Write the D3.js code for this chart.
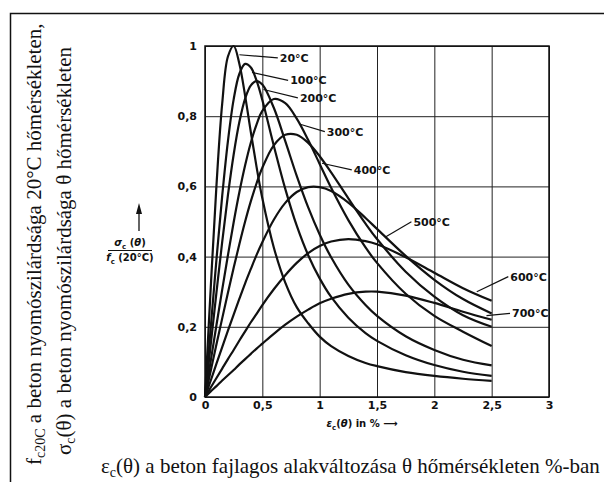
<!DOCTYPE html>
<html>
<head>
<meta charset="utf-8">
<script src="https://cdn.jsdelivr.net/npm/d3@7"></script>
<style>
  body { margin: 0; background: #fff; }
  svg { display: block; }
  .tick text, .lbl { font-family: "DejaVu Sans", sans-serif; font-weight: bold; font-size: 11px; fill: #111; }
  .serif { font-family: "Liberation Serif", "Times New Roman", serif; font-size: 21px; fill: #111; }
</style>
</head>
<body>
<div id="chart"></div>
<script>
// strain eps_c(theta) in %, shared by every curve
const STRAIN = [0, 0.05, 0.1, 0.15, 0.2, 0.25, 0.3, 0.35, 0.4, 0.45, 0.5, 0.6, 0.7, 0.8, 0.9, 1.0, 1.1, 1.25, 1.4, 1.5, 1.75, 2.0, 2.25, 2.5]

const TEMPS = ['20°C', '100°C', '200°C', '300°C', '400°C', '500°C', '600°C', '700°C']

// sigma_c(theta) / f_c(20°C)
const S20 = [0, 0.311, 0.603, 0.836, 0.97, 1.0, 0.949, 0.858, 0.754, 0.655, 0.566, 0.426, 0.326, 0.256, 0.21, 0.172, 0.145, 0.117, 0.097, 0.088, 0.071, 0.06, 0.052, 0.046]
const S100 = [0, 0.198, 0.392, 0.573, 0.729, 0.848, 0.921, 0.949, 0.939, 0.901, 0.846, 0.716, 0.593, 0.488, 0.404, 0.338, 0.285, 0.226, 0.182, 0.16, 0.119, 0.091, 0.072, 0.06]
const S200 = [0, 0.15, 0.298, 0.442, 0.575, 0.691, 0.784, 0.85, 0.888, 0.9, 0.89, 0.824, 0.729, 0.63, 0.54, 0.463, 0.398, 0.32, 0.262, 0.231, 0.173, 0.134, 0.106, 0.09]
const S300 = [0, 0.103, 0.205, 0.306, 0.404, 0.498, 0.584, 0.66, 0.725, 0.777, 0.815, 0.849, 0.837, 0.793, 0.732, 0.664, 0.596, 0.504, 0.426, 0.382, 0.294, 0.231, 0.186, 0.145]
const S400 = [0, 0.075, 0.15, 0.224, 0.297, 0.368, 0.436, 0.5, 0.558, 0.609, 0.653, 0.717, 0.747, 0.747, 0.724, 0.686, 0.64, 0.566, 0.494, 0.45, 0.357, 0.286, 0.233, 0.2]
const S500 = [0, 0.047, 0.095, 0.142, 0.189, 0.235, 0.28, 0.324, 0.365, 0.405, 0.441, 0.505, 0.553, 0.584, 0.598, 0.598, 0.587, 0.554, 0.51, 0.479, 0.402, 0.334, 0.279, 0.238]
const S600 = [0, 0.027, 0.054, 0.081, 0.108, 0.134, 0.161, 0.187, 0.213, 0.237, 0.262, 0.307, 0.347, 0.382, 0.41, 0.43, 0.443, 0.45, 0.444, 0.435, 0.398, 0.354, 0.31, 0.274]
const S700 = [0, 0.016, 0.031, 0.047, 0.062, 0.077, 0.093, 0.108, 0.123, 0.138, 0.152, 0.18, 0.206, 0.229, 0.249, 0.267, 0.28, 0.294, 0.3, 0.3, 0.289, 0.268, 0.243, 0.22]

const SERIES = [S20, S100, S200, S300, S400, S500, S600, S700]

const X_TICKS = [0, 0.5, 1, 1.5, 2, 2.5, 3]
const X_TICK_LABELS = ['0', '0,5', '1', '1,5', '2', '2,5', '3']
const Y_TICKS = [0, 0.2, 0.4, 0.6, 0.8, 1]
const Y_TICK_LABELS = ['0', '0,2', '0,4', '0,6', '0,8', '1']

// leader lines of the temperature labels, in data units: [from eps, from s, to eps, to s]
const LEADERS = [
  [0.30, 0.975, 0.635, 0.966],
  [0.41, 0.925, 0.725, 0.902],
  [0.51, 0.876, 0.81, 0.852],
  [0.83, 0.777, 1.045, 0.756],
  [1.02, 0.666, 1.28, 0.647],
  [1.57, 0.455, 1.80, 0.499],
  [2.37, 0.30, 2.645, 0.343],
  [2.455, 0.232, 2.66, 0.238],
]

const W = 604, H = 482
const plot = { left: 205, right: 549, top: 46, bottom: 397 }

const svg = d3.select('#chart').append('svg')
  .attr('width', W)
  .attr('height', H)

// outer frame of the scanned page (runs off the right and bottom)
svg.append('rect')
  .attr('x', 10.5).attr('y', 13.5)
  .attr('width', 700).attr('height', 600)
  .attr('fill', 'none').attr('stroke', '#111').attr('stroke-width', 1.5)

const x = d3.scaleLinear().domain([0, 3]).range([plot.left, plot.right])
const y = d3.scaleLinear().domain([0, 1]).range([plot.bottom, plot.top])

const xaxis = svg.append('g')
  .attr('transform', `translate(0,${plot.bottom})`)
  .call(d3.axisBottom(x)
    .tickValues(X_TICKS)
    .tickFormat((d, i) => X_TICK_LABELS[i])
    .tickSize(-(plot.bottom - plot.top))
    .tickSizeOuter(0)
    .tickPadding(4))
xaxis.select('.domain').remove()

const yaxis = svg.append('g')
  .attr('transform', `translate(${plot.left},0)`)
  .call(d3.axisLeft(y)
    .tickValues(Y_TICKS)
    .tickFormat((d, i) => Y_TICK_LABELS[i])
    .tickSize(-(plot.right - plot.left))
    .tickSizeOuter(0)
    .tickPadding(8))
yaxis.select('.domain').remove()

svg.selectAll('.tick line').attr('stroke', '#222').attr('stroke-width', 1)
svg.selectAll('.tick text').attr('fill', '#111')

svg.append('rect')
  .attr('x', plot.left).attr('y', plot.top)
  .attr('width', plot.right - plot.left).attr('height', plot.bottom - plot.top)
  .attr('fill', 'none').attr('stroke', '#111').attr('stroke-width', 1.5)

const line = d3.line()
  .x(d => x(d[0]))
  .y(d => y(d[1]))
  .curve(d3.curveCatmullRom.alpha(0.5))

svg.append('g').selectAll('path')
  .data(SERIES)
  .enter()
  .append('path')
  .attr('d', s => line(s.map((v, i) => [STRAIN[i], v])))
  .attr('fill', 'none')
  .attr('stroke', '#111')
  .attr('stroke-width', 2.2)
  .attr('stroke-linejoin', 'round')

// temperature labels with their leader lines
const lbl = svg.append('g')
lbl.selectAll('line')
  .data(LEADERS)
  .enter()
  .append('line')
  .attr('x1', d => x(d[0])).attr('y1', d => y(d[1]))
  .attr('x2', d => x(d[2])).attr('y2', d => y(d[3]))
  .attr('stroke', '#111').attr('stroke-width', 1.2)
lbl.selectAll('text')
  .data(LEADERS)
  .enter()
  .append('text')
  .attr('class', 'lbl')
  .attr('x', d => x(d[2]) + 2)
  .attr('y', d => y(d[3]) + 4)
  .text((d, i) => TEMPS[i])

// x axis title
const xt = svg.append('text')
  .attr('x', 362).attr('y', 427)
  .attr('text-anchor', 'middle')
  .style('font-family', '"DejaVu Sans", sans-serif')
  .style('font-size', '10px').style('font-weight', 'bold').attr('fill', '#111')
xt.append('tspan').style('font-style', 'italic').text('ε')
xt.append('tspan').attr('dy', 3).style('font-size', '7px').text('c')
xt.append('tspan').attr('dy', -3).text('(')
xt.append('tspan').style('font-style', 'italic').text('θ')
xt.append('tspan').text(') in % ⟶')

// y axis title: arrow and fraction
svg.append('line')
  .attr('x1', 139).attr('y1', 231).attr('x2', 139).attr('y2', 210)
  .attr('stroke', '#111').attr('stroke-width', 1.3)
svg.append('path')
  .attr('d', 'M136,214 L139,203 L142,214 Z')
  .attr('fill', '#111')

const num = svg.append('text')
  .attr('x', 130).attr('y', 246)
  .attr('text-anchor', 'middle')
  .style('font-family', '"DejaVu Sans", sans-serif')
  .style('font-size', '10px').style('font-weight', 'bold').attr('fill', '#111')
num.append('tspan').style('font-style', 'italic').text('σ')
num.append('tspan').attr('dy', 3).style('font-size', '7px').text('c')
num.append('tspan').attr('dy', -3).text(' (')
num.append('tspan').style('font-style', 'italic').text('θ')
num.append('tspan').text(')')

svg.append('line')
  .attr('x1', 108).attr('x2', 152).attr('y1', 250.5).attr('y2', 250.5)
  .attr('stroke', '#111').attr('stroke-width', 1)

const den = svg.append('text')
  .attr('x', 130).attr('y', 261)
  .attr('text-anchor', 'middle')
  .style('font-family', '"DejaVu Sans", sans-serif')
  .style('font-size', '10px').style('font-weight', 'bold').attr('fill', '#111')
den.append('tspan').style('font-style', 'italic').text('f')
den.append('tspan').attr('dy', 3).style('font-size', '7px').text('c')
den.append('tspan').attr('dy', -3).text(' (20°C)')

// Hungarian captions
const c1 = svg.append('text')
  .attr('class', 'serif')
  .attr('transform', 'translate(41,465) rotate(-90)')
c1.append('tspan').text('f')
c1.append('tspan').attr('dy', 4).style('font-size', '14px').text('c20C')
c1.append('tspan').attr('dy', -4).text(' a beton nyomószilárdsága 20°C hőmérsékleten,')

const c2 = svg.append('text')
  .attr('class', 'serif')
  .attr('transform', 'translate(71,455) rotate(-90)')
c2.append('tspan').text('σ')
c2.append('tspan').attr('dy', 4).style('font-size', '14px').text('c')
c2.append('tspan').attr('dy', -4).text('(θ) a beton nyomószilárdsága θ hőmérsékleten')

const c3 = svg.append('text')
  .attr('class', 'serif')
  .attr('x', 101).attr('y', 473)
c3.append('tspan').text('ε')
c3.append('tspan').attr('dy', 4).style('font-size', '14px').text('c')
c3.append('tspan').attr('dy', -4).text('(θ) a beton fajlagos alakváltozása θ hőmérsékleten %-ban')
</script>
</body>
</html>
